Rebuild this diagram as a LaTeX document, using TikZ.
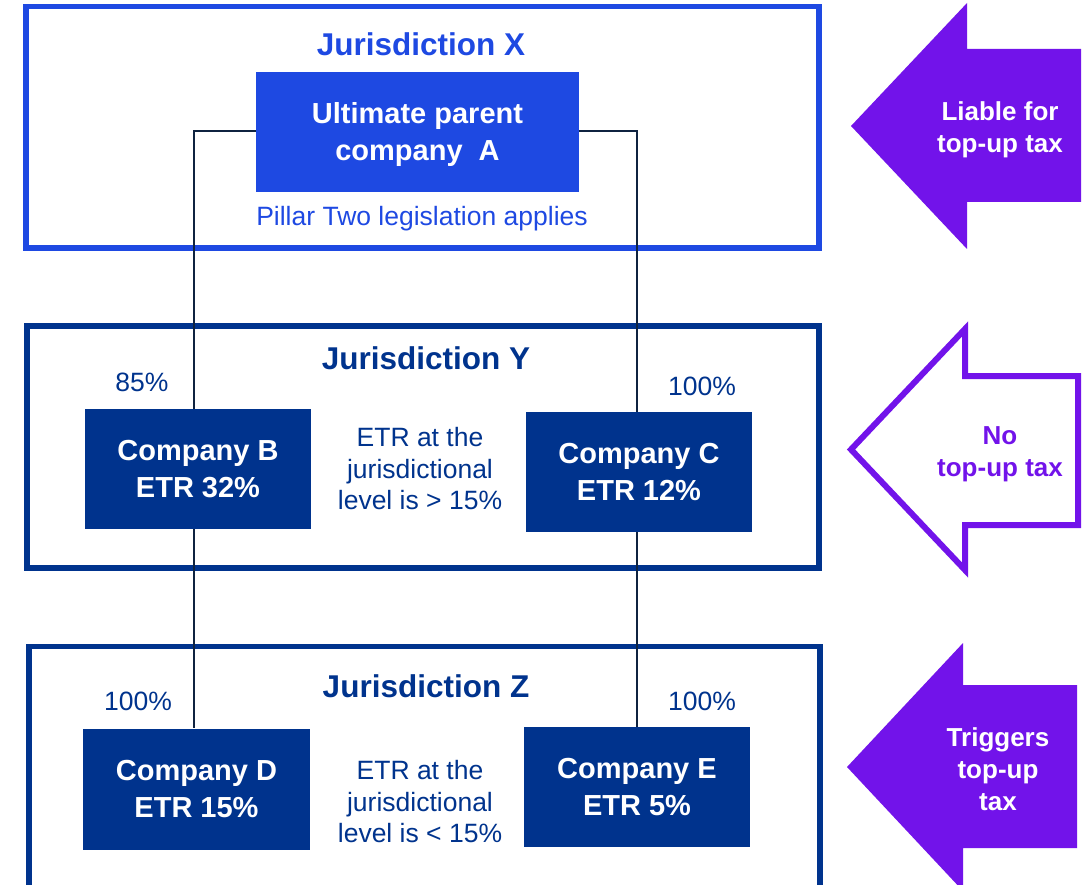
\documentclass[tikz,border=0pt]{standalone}
\usepackage{fontspec}
\setmainfont{Liberation Sans}
\usepackage{tikz}
\definecolor{cobalt}{HTML}{1E49E2}
\definecolor{kblue}{HTML}{00338D}
\definecolor{kpurple}{HTML}{7213EA}
\definecolor{wire}{HTML}{0F2340}

\tikzset{
  jurbox/.style={line width=5.5pt},
  company/.style={fill=kblue, text=white, inner sep=0pt, minimum width=226pt, minimum height=120pt, align=center, font=\fontsize{29}{37}\selectfont\bfseries},
  jurtitle/.style={font=\fontsize{31.5}{36}\selectfont\bfseries},
  plain/.style={text=kblue, align=center, font=\fontsize{26.5}{31.5}\selectfont},
  arrowtext/.style={align=center, font=\fontsize{26}{32}\selectfont\bfseries},
  link/.style={draw=wire, line width=2pt}
}

\begin{document}
\begin{tikzpicture}[x=1pt, y=-1pt]
        \useasboundingbox (0,0) rectangle (1084,885);
        \clip (0,0) rectangle (1084,885);

        % Jurisdiction X
        \draw[jurbox, cobalt] (26,6.5) rectangle (819,248);
        \node[jurtitle, text=cobalt] (tx) at (421,44) {Jurisdiction X};
        \node[company, fill=cobalt, minimum width=323pt] (A) at (417.5,132) {};
        \node[company, fill=none] (atext) at (417.5,135) {Ultimate parent\\company~~A};
        \node[plain, text=cobalt] (pillar) at (422,219) {Pillar Two legislation applies};

        % Jurisdiction Y
        \draw[jurbox, kblue] (27,326) rectangle (819,568);
        \node[jurtitle, text=kblue] (ty) at (426,358) {Jurisdiction Y};
        \node[company] (B) at (198,469) {Company B\\ETR 32\%};
        \node[company] (C) at (639,472) {Company C\\ETR 12\%};
        \node[plain] (pb) at (142,382) {85\%};
        \node[plain] (pc) at (702,386) {100\%};
        \node[plain] (ety) at (420,469) {ETR at the\\jurisdictional\\level is > 15\%};

        % Jurisdiction Z
        \draw[jurbox, kblue] (29,646.5) rectangle (820,900);
        \node[jurtitle, text=kblue] (tz) at (426,686) {Jurisdiction Z};
        \node[company, minimum width=227pt, minimum height=121pt] (D) at (196.5,789) {Company D\\ETR 15\%};
        \node[company] (E) at (637,787) {Company E\\ETR 5\%};
        \node[plain] (pd) at (138,701) {100\%};
        \node[plain] (pe) at (702,701) {100\%};
        \node[plain] (etz) at (420,802) {ETR at the\\jurisdictional\\level is < 15\%};

        % ownership lines
        \coordinate (kl) at (194,131);
        \coordinate (kr) at (637,131);
        \draw[link] (A.west |- kl) -- (kl) -- (kl |- B.north);
        \draw[link] (A.east |- kr) -- (kr) -- (kr |- C.north);
        \draw[link] (kl |- B.south) -- (kl |- D.north);
        \draw[link] (kr |- C.south) -- (kr |- E.north);

        % Arrows on the right
        \fill[kpurple] (851,126) -- (967,3) -- (967,49) -- (1081,49) -- (1081,202) -- (967,202) -- (967,249) -- cycle;
        \node[arrowtext, text=white] (liable) at (1000,130) {Liable for\\top-up tax};

        \draw[kpurple, line width=6pt, line join=miter] (851,449.5) -- (965,329) -- (965,376) -- (1078,376) -- (1078,525) -- (965,525) -- (965,570) -- cycle;
        \node[arrowtext, text=kpurple] (notax) at (1000,454) {No\\top-up tax};

        \fill[kpurple] (847,767) -- (963,643) -- (963,685) -- (1077,685) -- (1077,848) -- (963,848) -- (963,891) -- cycle;
        \node[arrowtext, text=white] (trigger) at (998,769) {Triggers\\top-up\\tax};
    \end{tikzpicture}
\end{document}
